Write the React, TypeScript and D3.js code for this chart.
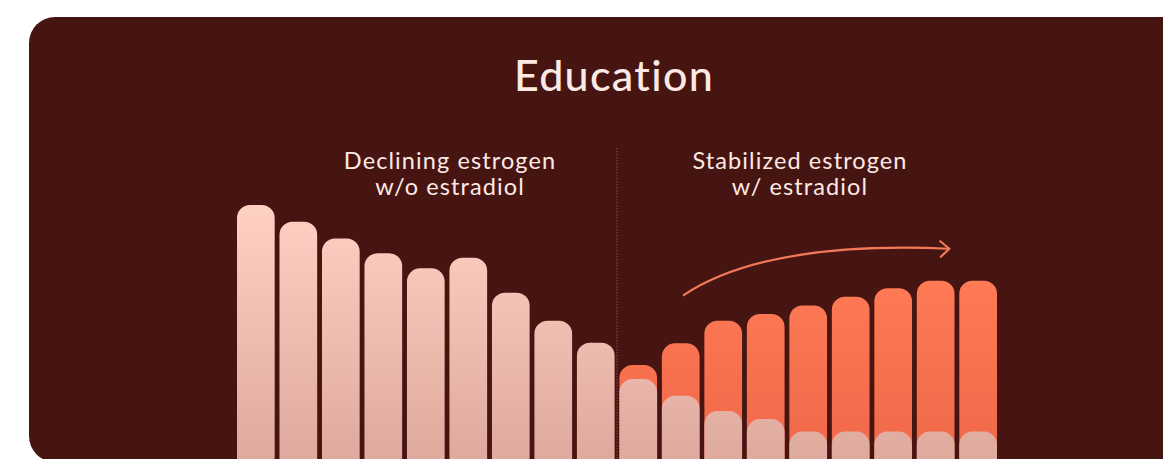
import React from "react";
import * as d3 from "d3";

const categories = [
  "W1", "W2", "W3", "W4", "W5", "W6", "W7", "W8", "W9",
  "S1", "S2", "S3", "S4", "S5", "S6", "S7", "S8", "S9",
];
// Declining estrogen (pink) level per bar, relative scale 0-100
const decliningValues = [100, 93.7, 87.4, 81.8, 76.1, 80.1, 66.9, 56.3, 48.0, 34.3, 28.0, 22.3, 19.2, 14.5, 14.5, 14.5, 14.5, 14.5];
// Stabilized estrogen total (orange) for the estradiol bars; null for the left group
const stabilizedValues: (number | null)[] = [null, null, null, null, null, null, null, null, null, 39.6, 47.8, 56.3, 58.9, 62.1, 65.4, 68.6, 71.4, 71.4];

const titleText = "Education";
const leftLabel = ["Declining estrogen", "w/o estradiol"];
const rightLabel = ["Stabilized estrogen", "w/ estradiol"];

const W = 1163;
const H = 459;

function topRoundedRect(x: number, y: number, w: number, h: number, r: number) {
  const rr = Math.min(r, w / 2, h);
  const p = d3.path();
  p.moveTo(x, y + h);
  p.lineTo(x, y + rr);
  p.arcTo(x, y, x + rr, y, rr);
  p.lineTo(x + w - rr, y);
  p.arcTo(x + w, y, x + w, y + rr, rr);
  p.lineTo(x + w, y + h);
  p.closePath();
  return p.toString();
}

export default function App() {
  const x = d3.scaleBand<string>().domain(categories).range([237, 997]).paddingInner(0.113).paddingOuter(0);
  const y = d3.scaleLinear().domain([0, 100]).range([470, 205]);
  const bw = x.bandwidth();
  const r = 13;
  const bottom = y(0) + 10;

  const splitX = ((x("W9") as number) + bw + (x("S1") as number)) / 2;

  // arrow annotation anchored to the scales
  const ax0 = (x("S2") as number) + bw * 0.58;
  const ay0 = y(66);
  const ax1 = (x("S9") as number) - 10;
  const ay1 = y(83.5);
  const cx = (x("S4") as number) + bw * 0.5;
  const cy = y(86.5);
  const arrowPath = `M${ax0},${ay0} Q${cx},${cy} ${ax1},${ay1}`;

  const textColor = "#fde9e4";
  const font = "Lato, 'Open Sans', sans-serif";

  return (
    <svg width={W} height={H} style={{ position: "fixed", left: 0, top: 0, display: "block" }}>
      <defs>
        <linearGradient id="pinkGrad" gradientUnits="userSpaceOnUse" x1="0" y1="200" x2="0" y2="470">
          <stop offset="0" stopColor="#ffd1c4" />
          <stop offset="1" stopColor="#dea89c" />
        </linearGradient>
        <linearGradient id="orangeGrad" gradientUnits="userSpaceOnUse" x1="0" y1="275" x2="0" y2="465">
          <stop offset="0" stopColor="#ff7a55" />
          <stop offset="1" stopColor="#ef6849" />
        </linearGradient>
        <clipPath id="panelClip">
          <rect x={29} y={17} width={1200} height={445} rx={26} />
        </clipPath>
      </defs>
      <rect x={0} y={0} width={W} height={H} fill="#ffffff" />
      <rect x={29} y={17} width={1200} height={445} rx={26} fill="#461512" />

      <g clipPath="url(#panelClip)">
        <line x1={splitX} x2={splitX} y1={148} y2={H} stroke="#8c3a33" strokeWidth={1.3} strokeDasharray="1.5 1.5" />

        {categories.map((c, i) => {
          const bx = x(c) as number;
          const s = stabilizedValues[i];
          const dv = decliningValues[i];
          return (
            <g key={c}>
              {s != null && (
                <path d={topRoundedRect(bx, y(s), bw, bottom - y(s), r)} fill="url(#orangeGrad)" />
              )}
              <path d={topRoundedRect(bx, y(dv), bw, bottom - y(dv), r)} fill="url(#pinkGrad)" />
            </g>
          );
        })}

        <path d={arrowPath} fill="none" stroke="#f27a5a" strokeWidth={2.2} strokeLinecap="round" />
        <path
          d={`M${ax1 - 9},${ay1 - 7.5} L${ax1},${ay1} L${ax1 - 8.5},${ay1 + 8}`}
          fill="none"
          stroke="#f27a5a"
          strokeWidth={2.2}
          strokeLinecap="round"
          strokeLinejoin="round"
        />
      </g>

      <text x={614} y={91} textAnchor="middle" fill={textColor} fontFamily={font} fontSize={43} fontWeight={500} letterSpacing={1.3}>
        {titleText}
      </text>
      <text textAnchor="middle" fill={textColor} fontFamily={font} fontSize={23.5} letterSpacing={1.1}>
        <tspan x={450} y={169}>{leftLabel[0]}</tspan>
        <tspan x={450} y={195}>{leftLabel[1]}</tspan>
      </text>
      <text textAnchor="middle" fill={textColor} fontFamily={font} fontSize={23.5} letterSpacing={1.1}>
        <tspan x={800} y={169}>{rightLabel[0]}</tspan>
        <tspan x={800} y={195}>{rightLabel[1]}</tspan>
      </text>
    </svg>
  );
}
